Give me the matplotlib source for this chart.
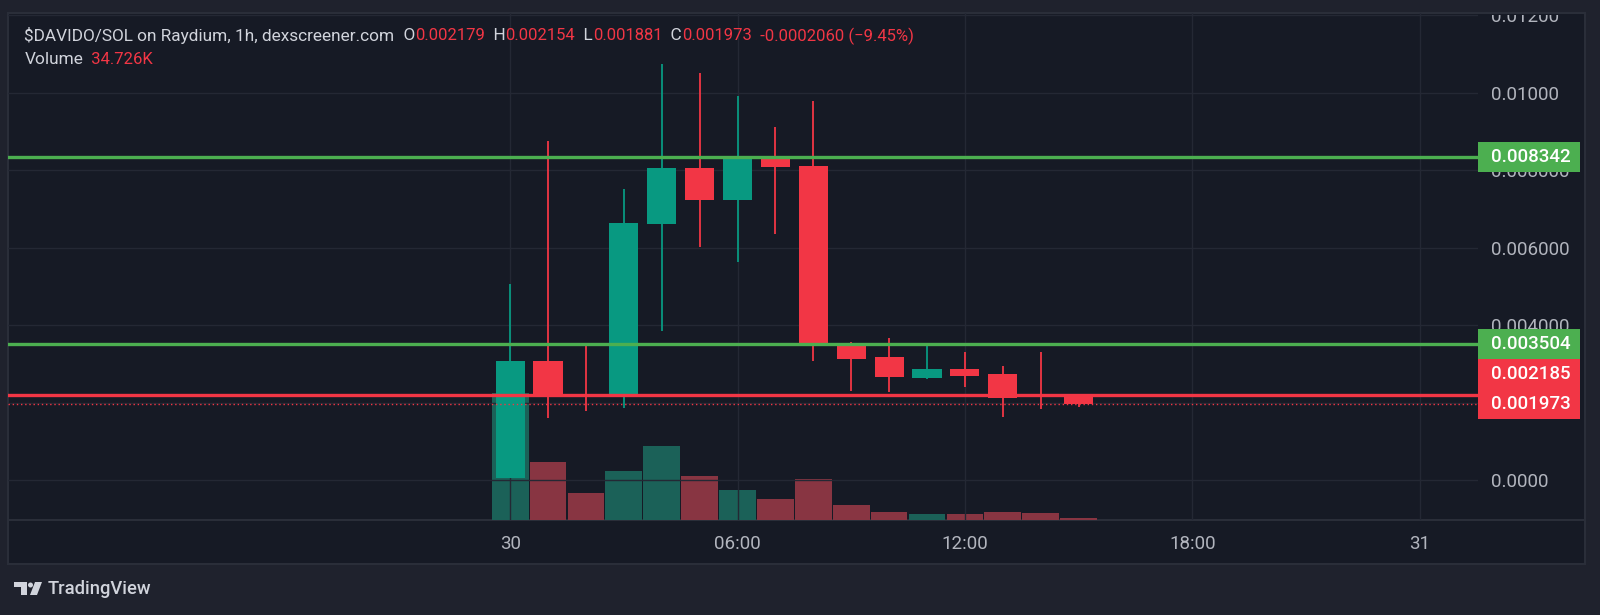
import matplotlib
matplotlib.use("Agg")
import matplotlib.pyplot as plt
from matplotlib.patches import Rectangle, Polygon, Circle
from matplotlib.lines import Line2D
from matplotlib.transforms import Affine2D, Bbox, TransformedBbox, blended_transform_factory

plt.rcParams["font.family"] = ["Roboto", "DejaVu Sans"]

# hourly candles, hours after 30th 00:00
hours = list(range(16))
opens = [0.00004, 0.00308, 0.00221, 0.00215, 0.00661, 0.00804, 0.00722, 0.00828,
         0.00810, 0.00347, 0.00317, 0.00264, 0.00286, 0.00273, 0.00220, 0.002179]
highs = [0.00506, 0.00875, 0.00350, 0.00750, 0.01074, 0.01051, 0.00991, 0.00912,
         0.00978, 0.00355, 0.00366, 0.00345, 0.00330, 0.00294, 0.00330, 0.002179]
lows = [0.00004, 0.00159, 0.00178, 0.00185, 0.00385, 0.00602, 0.00563, 0.00634,
        0.00308, 0.00230, 0.00228, 0.00261, 0.00241, 0.00162, 0.00182, 0.001881]
closes = [0.00308, 0.00215, 0.00215, 0.00663, 0.00804, 0.00722, 0.00828, 0.00807,
          0.00348, 0.00313, 0.00265, 0.00286, 0.00269, 0.00212, 0.00218, 0.001973]
volumes = [2190, 1000, 475, 840, 1280, 753, 510, 365, 706, 266, 132, 104, 104,
           132, 122, 34.726]  # in K

green_levels = [0.008342, 0.003504]
red_level = 0.002185
last_price = 0.001973

price_ticks = [0.0, 0.002, 0.004, 0.006, 0.008, 0.010, 0.012]
price_labels = ["0.0000", "0.002000", "0.004000", "0.006000", "0.008000", "0.01000", "0.01200"]
time_ticks = [0, 6, 12, 18, 24]
time_labels = ["30", "06:00", "12:00", "18:00", "31"]

UP = "#089981"
DOWN = "#F23645"
UP_VOL = "#1B6158"
DOWN_VOL = "#883542"
PANE = "#161A25"
OUTER = "#1F222D"
TXT = "#B2B5BE"

fig = plt.figure(figsize=(16, 6.15), dpi=100, facecolor=OUTER)
# pixel coords measured from top-left
px = Affine2D().scale(1 / 1600, -1 / 615).translate(0, 1) + fig.transFigure

fig.add_artist(Rectangle((8, 13), 1577, 551, transform=px, facecolor=PANE,
                         edgecolor="#2A2E39", lw=1.5, zorder=-10))
fig.add_artist(Line2D([8, 1585], [520, 520], transform=px, color="#2A2E39", lw=1.5, zorder=-5))

rect = [8 / 1600, (615 - 520) / 615, 1470 / 1600, 507 / 615]
ax_vol = fig.add_axes(rect)
ax = fig.add_axes(rect)
xlim = (-13.25, 25.54)

# volume
vol_colors = [UP_VOL if c >= o else DOWN_VOL for o, c in zip(opens, closes)]
ax_vol.bar(hours, volumes, width=0.97, color=vol_colors, linewidth=0)
ax_vol.set_xlim(*xlim)
ax_vol.set_ylim(0, 8760)
ax_vol.axis("off")

# candles
colors = [UP if c >= o else DOWN for o, c in zip(opens, closes)]
ax.vlines(hours, lows, highs, colors=colors, linewidth=1.3, zorder=2)
bottoms = [min(o, c) for o, c in zip(opens, closes)]
heights = [abs(c - o) for o, c in zip(opens, closes)]
ax.bar(hours, heights, bottom=bottoms, width=0.77, color=colors, linewidth=0, zorder=3)

for lv in green_levels:
    ax.axhline(lv, color="#4CAF50", lw=2.4, zorder=4)
ax.axhline(red_level, color=DOWN, lw=2.4, zorder=4)
ax.axhline(last_price, color=DOWN, lw=1, ls=(0, (1, 2)), zorder=4)

ax.set_xlim(*xlim)
ax.set_ylim(-0.001032, 0.012052)
ax.set_facecolor("none")
for s in ax.spines.values():
    s.set_visible(False)
ax.yaxis.tick_right()
ax.set_yticks(price_ticks)
ax.set_yticklabels(price_labels)
ax.set_xticks(time_ticks)
ax.set_xticklabels(time_labels)
ax.tick_params(axis="y", length=0, pad=9.5, labelsize=13.5, labelcolor=TXT)
ax.tick_params(axis="x", length=0, pad=11, labelsize=13.5, labelcolor=TXT)
ax.grid(True, color="#242834", lw=1, zorder=0)

# top price label is cut by the pane edge
pane_clip = TransformedBbox(Bbox([[8, 15], [1585, 564]]), px)
for lab in ax.get_yticklabels():
    lab.set_clip_box(pane_clip)
    lab.set_clip_on(True)

# price labels on the scale
inv = ax.transData.inverted()
box_h = inv.transform((0, 30))[1] - inv.transform((0, 0))[1]
blend = blended_transform_factory(px, ax.transData)


def price_box(value, color, shift=0.0):
    yc = value + shift
    fig.add_artist(Rectangle((1478, yc - box_h / 2), 102, box_h, transform=blend,
                             facecolor=color, edgecolor="none", zorder=5))
    fig.text(1491, yc, f"{value:.6f}", transform=blend, color="white", fontsize=13.5,
             fontweight="medium", va="center", ha="left", zorder=6)


price_box(green_levels[0], "#4CAF50")
price_box(green_levels[1], "#4CAF50")
price_box(red_level, DOWN, shift=box_h * 0.72)
price_box(last_price, DOWN)

# legend line
renderer = fig.canvas.get_renderer()


def draw_parts(x, y, parts):
    for s, c, size in parts:
        t = fig.text(x, y, s, transform=px, color=c, fontsize=size, va="center", ha="left")
        bb = t.get_window_extent(renderer=renderer)
        x += bb.width


HEAD = "#D1D4DC"
draw_parts(24.5, 36, [("$DAVIDO/SOL on Raydium, 1h, dexscreener.com", HEAD, 12.4),
                      ("  O", HEAD, 12.4), ("0.002179", DOWN, 12.0),
                      ("  H", HEAD, 12.4), ("0.002154", DOWN, 12.0),
                      ("  L", HEAD, 12.4), ("0.001881", DOWN, 12.0),
                      ("  C", HEAD, 12.4), ("0.001973", DOWN, 12.0),
                      ("  -0.0002060 (\u22129.45%)", DOWN, 12.0)])
draw_parts(24.5, 60, [("Volume", HEAD, 12.4), ("  34.726K", DOWN, 12.0)])

# TradingView mark
fig.add_artist(Polygon([(14, 582), (27, 582), (27, 595), (21, 595), (21, 587), (14, 587)],
                       closed=True, transform=px, facecolor="#D1D4DC", edgecolor="none"))
fig.add_artist(Circle((30.5, 585), 2.5, transform=px, facecolor="#D1D4DC", edgecolor="none"))
fig.add_artist(Polygon([(35, 582), (42, 582), (37, 595), (30, 595)],
                       closed=True, transform=px, facecolor="#D1D4DC", edgecolor="none"))
fig.text(48, 589, "TradingView", transform=px, color="#D1D4DC", fontsize=13.2,
         fontweight="medium", va="center", ha="left")

fig.savefig("out.png", dpi=100, facecolor=OUTER)
